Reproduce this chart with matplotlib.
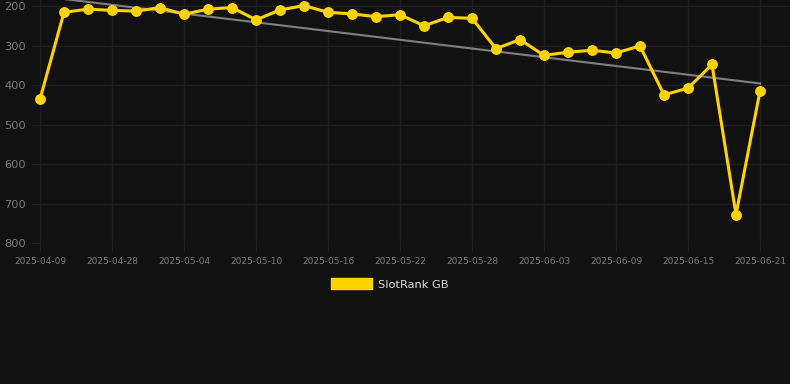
#!/usr/bin/env python3
# -*- coding: utf-8 -*-

import matplotlib
matplotlib.use('Agg')
import matplotlib.pyplot as plt
import numpy as np
from matplotlib.patches import Patch

# category axis: first day, then every second day
dates = ['2025-04-09', '2025-04-24', '2025-04-26', '2025-04-28', '2025-04-30',
         '2025-05-02', '2025-05-04', '2025-05-06', '2025-05-08', '2025-05-10',
         '2025-05-12', '2025-05-14', '2025-05-16', '2025-05-18', '2025-05-20',
         '2025-05-22', '2025-05-24', '2025-05-26', '2025-05-28', '2025-05-30',
         '2025-06-01', '2025-06-03', '2025-06-05', '2025-06-07', '2025-06-09',
         '2025-06-11', '2025-06-13', '2025-06-15', '2025-06-17', '2025-06-19',
         '2025-06-21']
ranks = [436, 216, 208, 211, 213, 204, 221, 208, 204, 235,
         210, 199, 216, 220, 227, 222, 250, 229, 231, 308,
         285, 325, 317, 312, 319, 301, 425, 408, 348, 728,
         415]
y_ticks = [200, 300, 400, 500, 600, 700, 800]
series_name = 'SlotRank GB'

BG = '#111111'
GRID = '#1f1f1f'
TXT = '#7a7a7a'
YELLOW = '#FFD300'


def main():
    fig = plt.figure(figsize=(7.9, 3.84), dpi=100, facecolor=BG)
    ax = fig.add_axes([40 / 790, 1 - 243 / 384, 750 / 790, 243 / 384])
    ax.set_facecolor(BG)

    x = np.arange(len(ranks))
    slope, icpt = np.polyfit(x, ranks, 1)
    ax.plot([x[0], x[-1]], [icpt, icpt + slope * x[-1]],
            color='#808080', lw=1.5, zorder=2)
    ax.plot(x, ranks, color=YELLOW, lw=2.2, marker='o', ms=6.8,
            solid_joinstyle='miter', zorder=3, clip_on=False)

    ax.set_xlim(0, 31.25)
    ax.set_ylim(800, 184.8)
    ax.set_yticks(y_ticks)
    ax.set_yticklabels([str(v) for v in y_ticks])
    tick_idx = list(range(0, len(dates), 3))
    ax.set_xticks(tick_idx)
    ax.set_xticklabels([dates[i] for i in tick_idx])

    ax.grid(True, color=GRID, lw=1)
    ax.set_axisbelow(True)
    for s in ax.spines.values():
        s.set_visible(False)
    ax.tick_params(axis='y', colors=GRID, labelcolor=TXT, labelsize=8.2,
                   length=6, pad=4)
    ax.tick_params(axis='x', colors=GRID, labelcolor=TXT, labelsize=6.5,
                   length=6, pad=4)

    handle = Patch(facecolor=YELLOW, edgecolor=YELLOW)
    fig.legend([handle], [series_name], loc='center',
               bbox_to_anchor=(390 / 790, 1 - 284 / 384), frameon=False,
               labelcolor='#dddddd', fontsize=8.2, handlelength=3.6,
               handleheight=1.1, handletextpad=0.5)

    fig.savefig('out.png', facecolor=BG)
    plt.close(fig)


if __name__ == '__main__':
    main()
